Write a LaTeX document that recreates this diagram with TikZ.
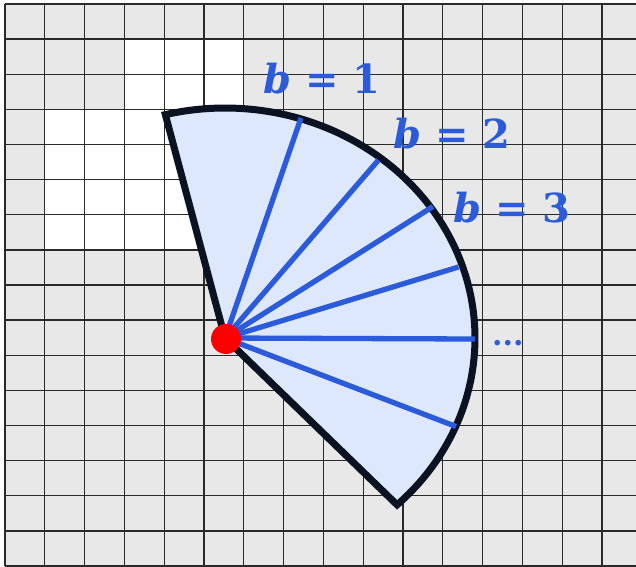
\documentclass[tikz,border=0pt]{standalone}
\usepackage{fontspec}
\setmainfont{DejaVu Serif}
\definecolor{cellgrey}{HTML}{E8E8E8}
\definecolor{gridline}{HTML}{2A2A2A}
\definecolor{fanfill}{HTML}{DEE8FC}
\definecolor{fanedge}{HTML}{0B1322}
\definecolor{rayblue}{HTML}{2B5BDB}
\definecolor{dotred}{HTML}{FF0000}
\tikzset{
  gridpen/.style={draw=gridline, line width=1.3pt},
  fanshape/.style={fill=fanfill, draw=fanedge, line width=7pt, line join=miter},
  raypen/.style={draw=rayblue, line width=5.3pt},
  lbl/.style={text=rayblue, inner sep=0pt, font=\fontsize{40}{44}\selectfont\bfseries},
  reddot/.style={circle, fill=dotred, minimum size=30pt, inner sep=0pt},
}
\begin{document}
\begin{tikzpicture}[x=1pt,y=-1pt]
\useasboundingbox (0,0) rectangle (636,566);
% grid background
\fill[cellgrey] (5,4) rectangle (636,566);
% white cells
\fill[white] (124.4,39.1) rectangle (243.8,109.4);
\fill[white] (44.8,109.4) rectangle (204,249.9);
\fill[white] (204,109.4) rectangle (243.8,249.9);
% grid lines
\foreach \i in {0,...,15} {
  \draw[gridpen] ({5+39.8*\i},4) -- ({5+39.8*\i},566);
}
\foreach \j in {0,...,16} {
  \draw[gridpen] (5,{4+35.125*\j}) -- (636,{4+35.125*\j});
}
% fan
\coordinate (O) at (225,338);
\path[fanshape] (O) -- plot[domain=-103.8:46.5, samples=120] ({225+250*cos(\x)},{338+230*sin(\x)}) -- cycle;
% rays
\coordinate (r1) at (301,118);
\coordinate (r2) at (378.5,160);
\coordinate (r3) at (433,206.5);
\coordinate (r4) at (458.5,267);
\coordinate (r5) at (475,339);
\coordinate (r6) at (456,426.5);
\foreach \r in {r1,r2,r3,r4,r5,r6} {
  \draw[raypen] (O) -- (\r);
}
\node[reddot] (dot) at (226,339) {};
% labels
\node[lbl, anchor=base west] (l1) at (263,93) {\itshape b\upshape{} = 1};
\node[lbl, anchor=base west] (l2) at (393,148) {\itshape b\upshape{} = 2};
\node[lbl, anchor=base west] (l3) at (453,222.5) {\itshape b\upshape{} = 3};
\node[text=rayblue, inner sep=0pt, anchor=base west, font=\fontsize{30}{32}\selectfont\bfseries] (dots) at (492,345) {...};
\end{tikzpicture}
\end{document}
